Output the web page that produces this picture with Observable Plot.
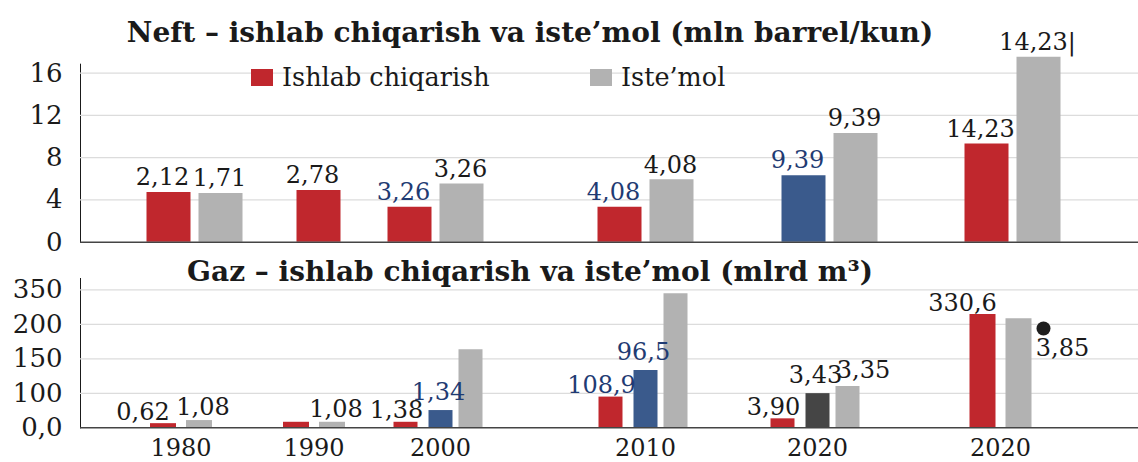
<!DOCTYPE html>
<html>
<head>
<meta charset="utf-8">
<script src="https://cdn.jsdelivr.net/npm/d3@7"></script>
<script src="https://cdn.jsdelivr.net/npm/@observablehq/plot@0.6"></script>
<style>
  body { margin: 0; background: #fff; }
  #wrap { position: relative; width: 1138px; height: 462px; overflow: hidden; font-family: "DejaVu Serif", serif; color: #1a1a1a; }
  .chart { position: absolute; left: 0; }
  .title { position: absolute; left: 0; width: 1060px; text-align: center; font-weight: bold; font-size: 28px; line-height: 32px; white-space: nowrap; }
  .leg { position: absolute; font-size: 25.5px; line-height: 28px; display: flex; align-items: center; white-space: nowrap; }
  .sw { display: inline-block; width: 22px; height: 17px; margin-right: 9px; }
</style>
</head>
<body>
<div id="wrap">
  <div id="oil" class="chart" style="top:0"></div>
  <div id="gas" class="chart" style="top:250px"></div>
  <div class="title" style="top:17px">Neft – ishlab chiqarish va iste’mol (mln barrel/kun)</div>
  <div class="title" style="top:256px">Gaz – ishlab chiqarish va iste’mol (mlrd m³)</div>
  <div class="leg" style="left:251px;top:63px"><span class="sw" style="background:#c0272d"></span>Ishlab chiqarish</div>
  <div class="leg" style="left:590px;top:63px"><span class="sw" style="background:#b2b2b2"></span>Iste’mol</div>
</div>
<script>
// ---------- data ----------
const years = ["1980", "1990", "2000", "2010", "2020", "2020"];

// Neft (mln barrel/kun) – bar heights
const oilIshlab = [4.7, 4.9, 3.3, 3.3, 6.3, 9.3];
const oilIshlabTur = ["ishlab", "ishlab", "ishlab", "ishlab", "ajratilgan", "ishlab"];
const oilIstemol = [4.6, null, 5.5, 5.9, 10.3, 17.5];
const oilIshlabYorliq = ["2,12", "2,78", "3,26", "4,08", "9,39", "14,23"];
const oilIshlabYorliqTur = ["oddiy", "oddiy", "kok", "kok", "kok", "oddiy"];
const oilIstemolYorliq = ["1,71", null, "3,26", "4,08", "9,39", "14,23|"];
const oilTicks = [0, 4, 8, 12, 16];

// Gaz (mlrd m³)
const gasIshlab = [12, 16, 16, 89, 26, 243];
const gasOrta = [null, null, 50, 133, 99, null];
const gasOrtaTur = [null, null, "ajratilgan", "ajratilgan", "toq", null];
const gasIstemol = [21, 16, 163, 333, 110, 224];
const gasNuqta = [null, null, null, null, null, 194];
const gasIshlabYorliq = ["0,62", null, "1,38", "108,9", "3,90", "330,6"];
const gasIshlabYorliqTur = ["oddiy", null, "oddiy", "kok", "oddiy", "oddiy"];
const gasOrtaYorliq = [null, null, "1,34", "96,5", "3,43", null];
const gasOrtaYorliqTur = [null, null, "kok", "kok", "oddiy", null];
const gasIstemolYorliq = ["1,08", "1,08", null, null, "3,35", null];
const gasNuqtaYorliq = [null, null, null, null, null, "3,85"];
const gasTicks = [0, 100, 150, 200, 350];

const palette = {
  ishlab: "#c0272d", istemol: "#b2b2b2", ajratilgan: "#3a5a8c", toq: "#454545",
  nuqta: "#1e1e1e", oddiy: "#1a1a1a", kok: "#1f3b73"
};

// ---------- tables ----------
const oilProd = years.map((y, i) => ({g: i, v: oilIshlab[i], kind: oilIshlabTur[i], label: oilIshlabYorliq[i], lk: oilIshlabYorliqTur[i]}));
const oilCons = years.map((y, i) => ({g: i, v: oilIstemol[i], kind: "istemol", label: oilIstemolYorliq[i], lk: "oddiy"})).filter(d => d.v != null);

const twoBar = i => gasOrta[i] == null;
const gasProd = years.map((y, i) => ({g: i, v: gasIshlab[i], kind: "ishlab", label: gasIshlabYorliq[i], lk: gasIshlabYorliqTur[i], two: twoBar(i)}));
const gasMid = years.map((y, i) => ({g: i, v: gasOrta[i], kind: gasOrtaTur[i], label: gasOrtaYorliq[i], lk: gasOrtaYorliqTur[i]})).filter(d => d.v != null);
const gasCons = years.map((y, i) => ({g: i, v: gasIstemol[i], kind: "istemol", label: gasIstemolYorliq[i], lk: "oddiy", two: twoBar(i)}));
const gasDot = years.map((y, i) => ({g: i, v: gasNuqta[i], label: gasNuqtaYorliq[i], lk: "oddiy"})).filter(d => d.v != null);

const font = {fontFamily: "DejaVu Serif, serif", fontSize: "24px", color: "#1a1a1a", background: "transparent", overflow: "visible"};
const idx = years.map((y, i) => i);
const hasLabel = d => d.label != null;
const txt = (data, dx, dy) => Plot.text(data.filter(hasLabel), {
  x: "g", y: "v", text: "label", fill: d => palette[d.lk], dx, dy, lineAnchor: "middle", fontSize: 24
});
const enlargeY = svg => {
  d3.select(svg).selectAll('[aria-label^="y-axis"]').attr("font-size", 26).selectAll("text").attr("font-size", 26);
  return svg;
};

// ---------- Neft ----------
const oil = Plot.plot({
  width: 1138, height: 250,
  marginLeft: 80, marginRight: 0, marginTop: 63.7, marginBottom: 8.3,
  style: font,
  x: {type: "linear", domain: idx, range: [194, 344, 435, 645, 829, 1012], axis: null},
  y: {domain: [0, 16.85], ticks: oilTicks, tickSize: 0, tickPadding: 18, line: true, label: null},
  color: {type: "identity"},
  marks: [
    Plot.ruleY(oilTicks.filter(d => d > 0), {stroke: "#dcdcdc", strokeWidth: 1.2}),
    Plot.ruleX(oilProd, {x: "g", y1: 0, y2: "v", stroke: d => palette[d.kind], strokeWidth: 44, dx: -26}),
    Plot.ruleX(oilCons, {x: "g", y1: 0, y2: "v", stroke: d => palette[d.kind], strokeWidth: 44, dx: 26}),
    txt(oilProd, -32, -15),
    txt(oilCons, 25, -15),
    Plot.ruleY([0], {stroke: "#444", strokeWidth: 1.6})
  ]
});
document.getElementById("oil").appendChild(enlargeY(oil));

// ---------- Gaz ----------
const gH = 212, gBase = 177.3, gStep = 34.5, gTop = 28;
const gasDomain = [...gasTicks, 400];
const gasRange = gasTicks.map((t, i) => gBase - i * gStep).concat([gTop]);

const gas = Plot.plot({
  width: 1138, height: gH,
  marginLeft: 80, marginRight: 0, marginTop: gTop, marginBottom: gH - gBase,
  style: font,
  x: {type: "linear", domain: idx, range: [180.5, 313.5, 440, 645, 817, 1000], ticks: idx,
      tickFormat: i => years[i], tickSize: 0, tickPadding: 11, label: null},
  y: {type: "linear", domain: gasDomain, range: gasRange, ticks: gasTicks,
      tickFormat: d => d === 0 ? "0,0" : String(d), tickSize: 0, tickPadding: 18, line: true, label: null},
  color: {type: "identity"},
  marks: [
    Plot.ruleY(gasTicks.filter(d => d > 0), {stroke: "#dcdcdc", strokeWidth: 1.2}),
    // groups with two bars
    Plot.ruleX(gasProd.filter(d => d.two), {x: "g", y1: 0, y2: "v", stroke: d => palette[d.kind], strokeWidth: 26, dx: -18}),
    Plot.ruleX(gasCons.filter(d => d.two), {x: "g", y1: 0, y2: "v", stroke: d => palette[d.kind], strokeWidth: 26, dx: 18}),
    // groups with three bars
    Plot.ruleX(gasProd.filter(d => !d.two), {x: "g", y1: 0, y2: "v", stroke: d => palette[d.kind], strokeWidth: 24, dx: -35}),
    Plot.ruleX(gasMid, {x: "g", y1: 0, y2: "v", stroke: d => palette[d.kind], strokeWidth: 24}),
    Plot.ruleX(gasCons.filter(d => !d.two), {x: "g", y1: 0, y2: "v", stroke: d => palette[d.kind], strokeWidth: 24, dx: 30}),
    Plot.dot(gasDot, {x: "g", y: "v", r: 7, fill: palette.nuqta, dx: 43}),
    txt(gasProd.filter(d => d.two), -38, -11),
    txt(gasCons.filter(d => d.two), 22, -13),
    txt(gasProd.filter(d => !d.two), -44, -12),
    txt(gasMid, -2, -18),
    txt(gasCons.filter(d => !d.two), 46, -16),
    txt(gasDot, 62, 20),
    Plot.ruleY([0], {stroke: "#444", strokeWidth: 1.6})
  ]
});
document.getElementById("gas").appendChild(enlargeY(gas));
</script>
</body>
</html>
